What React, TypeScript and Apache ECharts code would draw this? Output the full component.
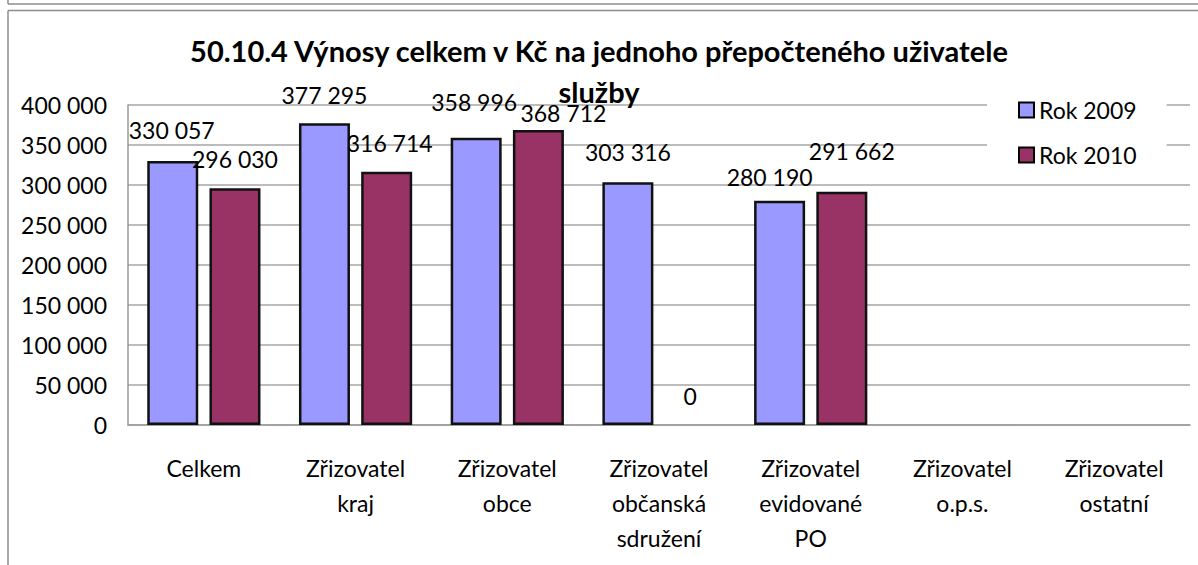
import React, { useEffect, useRef } from "react";
import * as echarts from "echarts";

const categories = [
  "Celkem",
  "Zřizovatel\nkraj",
  "Zřizovatel\nobce",
  "Zřizovatel\nobčanská\nsdružení",
  "Zřizovatel\nevidované\nPO",
  "Zřizovatel\no.p.s.",
  "Zřizovatel\nostatní",
];
const seriesNames = ["Rok 2009", "Rok 2010"];
const values2009 = [330057, 377295, 358996, 303316, 280190, null, null];
const values2010 = [296030, 316714, 368712, 0, 291662, null, null];
const yTicks = [0, 50000, 100000, 150000, 200000, 250000, 300000, 350000, 400000];

// label nudges (style only) [dx, dy] per category
const nudge2009 = [[-1, -2], [0, 1], [-2, -7], [0, -1], [-10, 5], [0, 0], [0, 0]];
const nudge2010 = [[0, 0], [3, 0], [25, 12], [0, 0], [10, -12], [0, 0], [0, 0]];

const FONT = "Lato";
const fmt = (v: number) => String(v).replace(/\B(?=(\d{3})+(?!\d))/g, " ");

export default function App() {
  const ref = useRef<HTMLDivElement>(null);
  useEffect(() => {
    const chart = echarts.init(ref.current!, undefined, { renderer: "svg" });
    const mk = (vals: (number | null)[], nudges: number[][]) =>
      vals.map((v, i) =>
        v === null
          ? null
          : {
              value: v,
              label: { offset: nudges[i] },
              ...(v === 0 ? { itemStyle: { borderWidth: 0, color: "rgba(0,0,0,0)" } } : {}),
            }
      );
    const labelStyle = {
      show: true,
      position: "top",
      distance: 17,
      fontFamily: FONT,
      fontSize: 23,
      lineHeight: 24,
      color: "#000",
      formatter: (p: any) => fmt(p.value),
    };
    chart.setOption({
      animation: false,
      backgroundColor: "#fff",
      textStyle: { fontFamily: FONT },
      title: {
        text: "50.10.4 Výnosy celkem v Kč na jednoho přepočteného uživatele\nslužby",
        left: 594,
        top: 25,
        textAlign: "center",
        textStyle: {
          fontFamily: FONT,
          fontSize: 29,
          fontWeight: "bold",
          lineHeight: 41,
          color: "#000",
          align: "center",
        },
      },
      legend: {
        orient: "vertical",
        left: 987,
        top: 88,
        padding: [8, 30, 8, 31],
        backgroundColor: "#fff",
        itemGap: 17,
        itemWidth: 15,
        itemHeight: 15,
        icon: "rect",
        itemStyle: { borderColor: "#000", borderWidth: 2 },
        textStyle: { fontFamily: FONT, fontSize: 23, lineHeight: 28, color: "#000" },
        data: seriesNames,
      },
      grid: { left: 128, right: 8, top: 105, bottom: 140, containLabel: false },
      xAxis: {
        type: "category",
        data: categories,
        axisLine: { lineStyle: { color: "#9a9a9a", width: 1.5 } },
        axisTick: { show: false },
        axisLabel: {
          interval: 0,
          margin: 25,
          fontFamily: FONT,
          fontSize: 23,
          lineHeight: 35,
          color: "#000",
        },
      },
      yAxis: {
        type: "value",
        min: yTicks[0],
        max: yTicks[yTicks.length - 1],
        interval: 50000,
        axisLine: { show: true, lineStyle: { color: "#9a9a9a", width: 1.5 } },
        axisTick: { show: false },
        splitLine: { lineStyle: { color: "#a6a6a6", width: 1.5 } },
        axisLabel: {
          margin: 21,
          fontFamily: FONT,
          fontSize: 23,
          color: "#000",
          formatter: (v: number) => fmt(v),
        },
      },
      graphic: [
        { type: "line", shape: { x1: 8, y1: 4, x2: 1198, y2: 4 }, style: { stroke: "#8c8c8c", lineWidth: 1.5 } },
        { type: "line", shape: { x1: 8, y1: 0, x2: 8, y2: 4 }, style: { stroke: "#8c8c8c", lineWidth: 1.5 } },
        { type: "line", shape: { x1: 8, y1: 10.5, x2: 1198, y2: 10.5 }, style: { stroke: "#8c8c8c", lineWidth: 1.5 } },
        { type: "line", shape: { x1: 8, y1: 10.5, x2: 8, y2: 565 }, style: { stroke: "#8c8c8c", lineWidth: 1.5 } },
      ],
      series: [
        {
          name: seriesNames[0],
          type: "bar",
          data: mk(values2009, nudge2009),
          barWidth: 51,
          barGap: "22%",
          itemStyle: { color: "#9999ff", borderColor: "#111", borderWidth: 2.5 },
          label: labelStyle,
        },
        {
          name: seriesNames[1],
          type: "bar",
          data: mk(values2010, nudge2010),
          barWidth: 51,
          barGap: "22%",
          itemStyle: { color: "#993366", borderColor: "#111", borderWidth: 2.5 },
          label: labelStyle,
        },
      ],
    });
    return () => chart.dispose();
  }, []);
  return (
    <div
      ref={ref}
      style={{ position: "fixed", left: 0, top: 0, width: 1198, height: 565 }}
    />
  );
}
